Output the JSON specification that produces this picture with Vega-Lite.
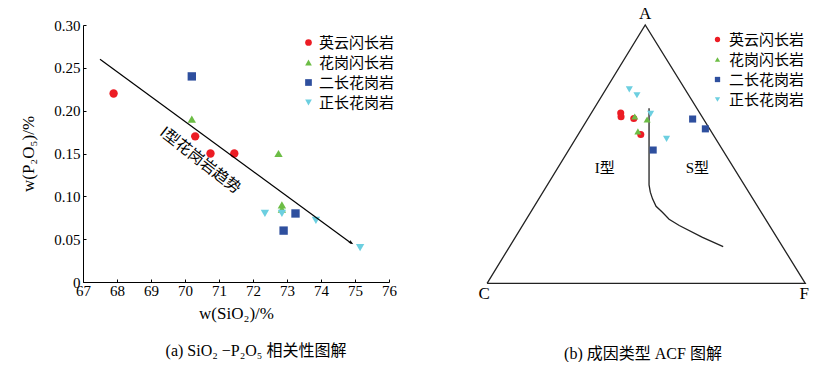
{
  "$schema": "https://vega.github.io/schema/vega-lite/v6.json",
  "background": "white",
  "padding": {"left": 19, "top": 4, "right": 0, "bottom": 0},
  "bounds": "flush",
  "spacing": 79,
  "config": {
    "font": "Liberation Serif, Noto Sans CJK SC",
    "view": {"stroke": null},
    "axis": {
      "domainColor": "black", "tickColor": "black", "labelColor": "black", "titleColor": "black",
      "grid": false, "labelFontSize": 15, "titleFontSize": 17, "titleFontWeight": "normal",
      "tickSize": -3, "labelFlush": false, "labelOverlap": false, "labelFont": "Liberation Serif", "titleFont": "Liberation Serif"
    },
    "axisQuantitative": {"labelOverlap": false},
    "legend": {"labelFont": "Noto Sans CJK SC", "labelColor": "black"},
    "title": {"color": "black", "fontWeight": "normal", "font": "Liberation Serif, Noto Sans CJK SC"}
  },
  "resolve": {
    "scale": {"color": "independent", "shape": "independent"},
    "legend": {"color": "independent", "shape": "independent"}
  },
  "hconcat": [
    {
      "width": 306,
      "height": 257,
      "title": {"text": "(a) SiO₂ −P₂O₅ 相关性图解", "orient": "bottom", "offset": 22, "fontSize": 16, "dx": 20},
      "layer": [
        {
          "data": {"values": [
            {"type": "英云闪长岩", "SiO2": 67.9, "P2O5": 0.22},
            {"type": "英云闪长岩", "SiO2": 70.3, "P2O5": 0.17},
            {"type": "英云闪长岩", "SiO2": 70.75, "P2O5": 0.15},
            {"type": "英云闪长岩", "SiO2": 71.45, "P2O5": 0.15},
            {"type": "花岗闪长岩", "SiO2": 70.2, "P2O5": 0.19},
            {"type": "花岗闪长岩", "SiO2": 72.75, "P2O5": 0.15},
            {"type": "花岗闪长岩", "SiO2": 72.85, "P2O5": 0.09},
            {"type": "花岗闪长岩", "SiO2": 72.85, "P2O5": 0.085},
            {"type": "二长花岗岩", "SiO2": 70.2, "P2O5": 0.24},
            {"type": "二长花岗岩", "SiO2": 73.25, "P2O5": 0.08},
            {"type": "二长花岗岩", "SiO2": 72.9, "P2O5": 0.06},
            {"type": "正长花岗岩", "SiO2": 72.35, "P2O5": 0.08},
            {"type": "正长花岗岩", "SiO2": 72.85, "P2O5": 0.08},
            {"type": "正长花岗岩", "SiO2": 73.85, "P2O5": 0.072},
            {"type": "正长花岗岩", "SiO2": 75.15, "P2O5": 0.04}
          ]},
          "mark": {"type": "point", "filled": true, "opacity": 1, "size": 70},
          "encoding": {
            "x": {"field": "SiO2", "type": "quantitative", "title": "w(SiO₂)/%",
              "scale": {"domain": [67, 76], "nice": false, "zero": false},
              "axis": {"tickCount": 9, "format": "d", "labelOverlap": false, "labelPadding": 4, "titlePadding": 7}},
            "y": {"field": "P2O5", "type": "quantitative", "title": "w(P₂O₅)/%",
              "scale": {"domain": [0, 0.3], "nice": false, "zero": false},
              "axis": {"tickCount": 6, "labelOverlap": false,
                "labelExpr": "datum.value == 0 ? '0' : format(datum.value, '.2f')", "labelPadding": 6, "titlePadding": 16}},
            "color": {"field": "type", "type": "nominal",
              "scale": {"domain": ["英云闪长岩", "花岗闪长岩", "二长花岗岩", "正长花岗岩"], "range": ["#ec1c24", "#6cbd45", "#2e4f9e", "#6ccfe0"]},
              "legend": {"title": null, "orient": "none", "legendX": 218, "legendY": 10, "labelFontSize": 15, "symbolSize": 45, "rowPadding": 4, "labelOffset": 3, "symbolStrokeWidth": 0}},
            "shape": {"field": "type", "type": "nominal",
              "scale": {"domain": ["英云闪长岩", "花岗闪长岩", "二长花岗岩", "正长花岗岩"], "range": ["circle", "triangle-up", "square", "triangle-down"]},
              "legend": {"title": null, "orient": "none", "legendX": 218, "legendY": 10, "labelFontSize": 15, "symbolSize": 45, "rowPadding": 4, "labelOffset": 3, "symbolStrokeWidth": 0}}
          }
        },
        {
          "data": {"values": [{"SiO2": 67.5, "P2O5": 0.26, "SiO2_end": 74.9, "P2O5_end": 0.045}]},
          "mark": {"type": "rule", "color": "black", "strokeWidth": 1.2},
          "encoding": {
            "x": {"field": "SiO2", "type": "quantitative", "title": "w(SiO₂)/%"},
            "y": {"field": "P2O5", "type": "quantitative", "title": "w(P₂O₅)/%"},
            "x2": {"field": "SiO2_end"},
            "y2": {"field": "P2O5_end"}
          }
        },
        {
          "data": {"values": [{"SiO2": 74.95, "P2O5": 0.044}]},
          "mark": {"type": "point", "filled": true, "color": "black", "opacity": 1, "size": 100, "angle": 36, "shape": "M0,0L-1,-0.32L-0.8,0L-1,0.32Z"},
          "encoding": {
            "x": {"field": "SiO2", "type": "quantitative", "title": "w(SiO₂)/%"},
            "y": {"field": "P2O5", "type": "quantitative", "title": "w(P₂O₅)/%"}
          }
        },
        {
          "data": {"values": [{"SiO2": 70.45, "P2O5": 0.142, "label": "I型花岗岩趋势"}]},
          "mark": {"type": "text", "angle": 38, "fontSize": 15.5, "font": "Noto Sans CJK SC", "color": "black", "align": "center", "baseline": "middle"},
          "encoding": {
            "x": {"field": "SiO2", "type": "quantitative", "title": "w(SiO₂)/%"},
            "y": {"field": "P2O5", "type": "quantitative", "title": "w(P₂O₅)/%"},
            "text": {"field": "label"}
          }
        }
      ]
    },
    {
      "width": 350,
      "height": 279,
      "title": {"text": "(b) 成因类型 ACF 图解", "orient": "bottom", "offset": 42, "fontSize": 16},
      "layer": [
        {
          "data": {"values": [
            {"series": "tri", "ord": 1, "x": 0, "y": 0},
            {"series": "tri", "ord": 2, "x": 49.7, "y": 100},
            {"series": "tri", "ord": 3, "x": 100, "y": 0},
            {"series": "tri", "ord": 4, "x": 0, "y": 0},
            {"series": "curve", "ord": 1, "x": 50.9, "y": 67.8},
            {"series": "curve", "ord": 2, "x": 50.9, "y": 38.1},
            {"series": "curve", "ord": 3, "x": 51.3, "y": 35.3},
            {"series": "curve", "ord": 4, "x": 52.0, "y": 32.7},
            {"series": "curve", "ord": 5, "x": 53.1, "y": 29.8},
            {"series": "curve", "ord": 6, "x": 55.1, "y": 27.5},
            {"series": "curve", "ord": 7, "x": 57.2, "y": 24.8},
            {"series": "curve", "ord": 8, "x": 60.4, "y": 22.4},
            {"series": "curve", "ord": 9, "x": 67.7, "y": 17.8},
            {"series": "curve", "ord": 10, "x": 74.2, "y": 14.2}
          ]},
          "mark": {"type": "line", "color": "#222222", "strokeWidth": 1.3},
          "encoding": {
            "x": {"field": "x", "type": "quantitative", "scale": {"domain": [-6, 104], "nice": false, "zero": false}, "axis": null},
            "y": {"field": "y", "type": "quantitative", "scale": {"domain": [-8, 100], "nice": false, "zero": false}, "axis": null},
            "detail": {"field": "series"},
            "order": {"field": "ord"}
          }
        },
        {
          "data": {"values": [
            {"type": "英云闪长岩", "x": 42.0, "y": 65.9},
            {"type": "英云闪长岩", "x": 42.1, "y": 64.5},
            {"type": "英云闪长岩", "x": 46.1, "y": 63.8},
            {"type": "英云闪长岩", "x": 48.3, "y": 57.6},
            {"type": "花岗闪长岩", "x": 46.4, "y": 64.6},
            {"type": "花岗闪长岩", "x": 50.3, "y": 63.4},
            {"type": "花岗闪长岩", "x": 47.4, "y": 58.8},
            {"type": "二长花岗岩", "x": 64.6, "y": 63.6},
            {"type": "二长花岗岩", "x": 68.6, "y": 59.8},
            {"type": "二长花岗岩", "x": 52.2, "y": 51.6},
            {"type": "正长花岗岩", "x": 44.7, "y": 75.1},
            {"type": "正长花岗岩", "x": 47.1, "y": 72.8},
            {"type": "正长花岗岩", "x": 51.4, "y": 65.6},
            {"type": "正长花岗岩", "x": 56.4, "y": 55.9}
          ]},
          "mark": {"type": "point", "filled": true, "opacity": 1, "size": 50},
          "encoding": {
            "x": {"field": "x", "type": "quantitative"},
            "y": {"field": "y", "type": "quantitative"},
            "color": {"field": "type", "type": "nominal",
              "scale": {"domain": ["英云闪长岩", "花岗闪长岩", "二长花岗岩", "正长花岗岩"], "range": ["#ec1c24", "#6cbd45", "#2e4f9e", "#6ccfe0"]},
              "legend": {"title": null, "orient": "none", "legendX": 242, "legendY": 7, "labelFontSize": 15, "symbolSize": 28, "rowPadding": 4, "symbolStrokeWidth": 0}},
            "shape": {"field": "type", "type": "nominal",
              "scale": {"domain": ["英云闪长岩", "花岗闪长岩", "二长花岗岩", "正长花岗岩"], "range": ["circle", "triangle-up", "square", "triangle-down"]},
              "legend": {"title": null, "orient": "none", "legendX": 242, "legendY": 7, "labelFontSize": 15, "symbolSize": 28, "rowPadding": 4, "symbolStrokeWidth": 0}}
          }
        },
        {
          "data": {"values": [
            {"label": "A", "x": 49.7, "y": 104.3},
            {"label": "C", "x": -0.9, "y": -4.3},
            {"label": "F", "x": 99.7, "y": -4.3}
          ]},
          "mark": {"type": "text", "fontSize": 17, "font": "Liberation Serif", "color": "black", "align": "center", "baseline": "middle"},
          "encoding": {
            "x": {"field": "x", "type": "quantitative"},
            "y": {"field": "y", "type": "quantitative"},
            "text": {"field": "label"}
          }
        },
        {
          "data": {"values": [
            {"label": "I型", "x": 37.0, "y": 44.7},
            {"label": "S型", "x": 66.1, "y": 44.7}
          ]},
          "mark": {"type": "text", "fontSize": 15, "font": "Liberation Serif, Noto Sans CJK SC", "color": "black", "align": "center", "baseline": "middle"},
          "encoding": {
            "x": {"field": "x", "type": "quantitative"},
            "y": {"field": "y", "type": "quantitative"},
            "text": {"field": "label"}
          }
        }
      ]
    }
  ]
}
